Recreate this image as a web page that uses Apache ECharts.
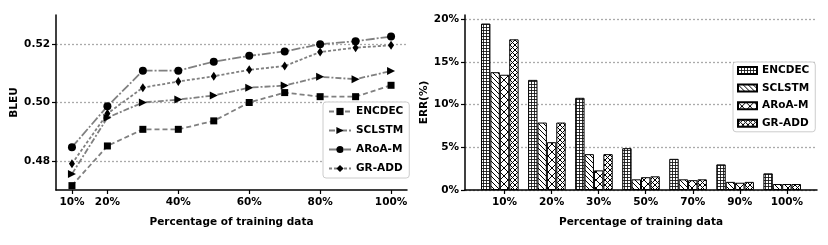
<!DOCTYPE html>
<html><head><meta charset="utf-8">
<script src="https://cdn.jsdelivr.net/npm/echarts@6/dist/echarts.min.js"></script>
<style>html,body{margin:0;padding:0;background:#fff}#c{width:828px;height:245px}</style>
</head><body><div id="c"></div>
<script>
// ---- Data (left: BLEU vs percentage of training data) ----
const trainPct = [10, 20, 30, 40, 50, 60, 70, 80, 90, 100];
const bleuTicksX = [10, 20, 40, 60, 80, 100];
const bleuTicksY = [0.48, 0.50, 0.52];
const bleuEncdec = [0.4715, 0.4851, 0.4908, 0.4908, 0.4937, 0.5000, 0.5034, 0.5020, 0.5020, 0.5059];
const bleuSclstm = [0.4755, 0.4948, 0.5000, 0.5010, 0.5024, 0.5051, 0.5058, 0.5088, 0.5080, 0.5108];
const bleuAroa   = [0.4847, 0.4987, 0.5109, 0.5109, 0.5140, 0.5160, 0.5175, 0.5200, 0.5210, 0.5226];
const bleuGradd  = [0.4790, 0.4962, 0.5051, 0.5072, 0.5090, 0.5112, 0.5125, 0.5173, 0.5188, 0.5196];

// ---- Data (right: ERR vs percentage of training data) ----
const errCats   = ['10%', '20%', '30%', '50%', '70%', '90%', '100%'];
const errTicksY = [0, 5, 10, 15, 20];
const errEncdec = [19.5, 12.9, 10.8, 4.9, 3.65, 3.0, 1.95];
const errSclstm = [13.8, 7.9, 4.2, 1.25, 1.25, 0.95, 0.7];
const errAroa   = [13.5, 5.6, 2.3, 1.5, 1.15, 0.85, 0.7];
const errGradd  = [17.65, 7.9, 4.2, 1.6, 1.25, 0.95, 0.7];

const names = ['ENCDEC', 'SCLSTM', 'ARoA-M', 'GR-ADD'];
const ERR_SUFFIX = ' (ERR)';

const FONT = 'DejaVu Sans';
const txt = { fontFamily: FONT, fontWeight: 'bold', fontSize: 10.5, color: '#000' };

function hatch(kind) {
  const s = kind === 'grid' ? 3 : kind === 'back' ? 5 : kind === 'xs' ? 8 : 5;
  const c = document.createElement('canvas');
  c.width = s; c.height = s;
  const g = c.getContext('2d');
  g.fillStyle = '#fff'; g.fillRect(0, 0, s, s);
  g.strokeStyle = '#000'; g.fillStyle = '#111';
  g.lineWidth = 1;
  if (kind === 'grid') {
    g.globalAlpha = 0.85;
    g.fillRect(0, 0, s, 1);
    g.fillRect(0, 0, 1, s);
  } else {
    g.beginPath();
    for (let k = -1; k <= 1; k++) {
      g.moveTo(k * s, 0); g.lineTo(k * s + s, s);
      if (kind !== 'back') { g.moveTo(k * s + s, 0); g.lineTo(k * s, s); }
    }
    g.stroke();
  }
  return { image: c, repeat: 'repeat' };
}
const patterns = [hatch('grid'), hatch('back'), hatch('xs'), hatch('xd')];

const lineDefs = [
  { data: bleuEncdec, symbol: 'rect', size: 7, rot: 0, dash: [5, 3] },
  { data: bleuSclstm, symbol: 'triangle', size: 8, rot: -90, dash: [6, 2, 2, 2] },
  { data: bleuAroa, symbol: 'circle', size: 8, rot: 0, dash: [9, 2, 2, 2] },
  { data: bleuGradd, symbol: 'diamond', size: [6, 9], rot: 0, dash: [3, 2] }
];
const errDefs = [errEncdec, errSclstm, errAroa, errGradd];

const series = [];
lineDefs.forEach((d, k) => {
  series.push({
    type: 'line', name: names[k], xAxisIndex: 0, yAxisIndex: 0,
    data: trainPct.map((x, i) => [x, d.data[i]]),
    symbol: d.symbol, symbolSize: d.size, symbolRotate: d.rot,
    lineStyle: { color: '#808080', width: 1.8, type: d.dash },
    itemStyle: { color: '#000' },
    z: 3
  });
});
errDefs.forEach((vals, k) => {
  series.push({
    type: 'bar', name: names[k] + ERR_SUFFIX, xAxisIndex: 1, yAxisIndex: 1,
    data: errCats.map((c, i) => [i, vals[i]]),
    barWidth: 9.4, barGap: '0%',
    itemStyle: { color: patterns[k], borderColor: '#000', borderWidth: 1 }
  });
});
// empty slot so that the category tick sits under the third bar, as in the source
series.push({
  type: 'bar', name: '_slot', xAxisIndex: 1, yAxisIndex: 1,
  data: errCats.map((c, i) => [i, '-']), barWidth: 9.4, barGap: '0%',
  itemStyle: { color: 'transparent' }, silent: true
});

const axisLine = { show: true, onZero: false, lineStyle: { color: '#000', width: 1.5 } };
const axisTick = (vals) => ({ show: true, customValues: vals, length: 4, lineStyle: { color: '#000', width: 1.2 } });
const split = { show: true, lineStyle: { color: '#aaaaaa', width: 1.3, type: [2, 2] } };

const chart = echarts.init(document.getElementById('c'), null, { renderer: 'canvas' });
chart.setOption({
  animation: false,
  backgroundColor: '#fff',
  textStyle: { fontFamily: FONT },
  grid: [
    { left: 56, top: 15, width: 351, height: 175 },
    { left: 465, top: 15, width: 352, height: 175 }
  ],
  xAxis: [
    {
      type: 'value', gridIndex: 0, min: 5.5, max: 104.5,
      axisLine, axisTick: axisTick(bleuTicksX),
      axisLabel: Object.assign({ customValues: bleuTicksX, formatter: '{value}%', margin: 7 }, txt),
      splitLine: { show: false },
      name: 'Percentage of training data', nameLocation: 'middle', nameGap: 27,
      nameTextStyle: txt
    },
    {
      type: 'value', gridIndex: 1, min: -0.84, max: 6.64,
      axisLine, axisTick: axisTick(errCats.map((c, i) => i)),
      axisLabel: Object.assign({ customValues: errCats.map((c, i) => i), formatter: (v) => errCats[v], margin: 7 }, txt),
      splitLine: { show: false },
      name: 'Percentage of training data', nameLocation: 'middle', nameGap: 27,
      nameTextStyle: txt
    }
  ],
  yAxis: [
    {
      type: 'value', gridIndex: 0, min: 0.47, max: 0.53,
      axisLine, axisTick: axisTick(bleuTicksY),
      axisLabel: Object.assign({ customValues: bleuTicksY, formatter: (v) => v.toFixed(2), margin: 6 }, txt),
      splitLine: split,
      name: 'BLEU', nameLocation: 'middle', nameGap: 36, nameRotate: 90,
      nameTextStyle: txt
    },
    {
      type: 'value', gridIndex: 1, min: 0, max: 20.5,
      axisLine, axisTick: axisTick(errTicksY),
      axisLabel: Object.assign({ customValues: errTicksY, formatter: '{value}%', margin: 6 }, txt),
      splitLine: split,
      name: 'ERR(%)', nameLocation: 'middle', nameGap: 34, nameRotate: 90,
      nameTextStyle: txt
    }
  ],
  legend: [
    {
      data: names, orient: 'vertical', left: 323, top: 102,
      padding: [4, 6, 4, 5], itemGap: 8, itemWidth: 22, itemHeight: 9,
      borderColor: '#cccccc', borderWidth: 1, borderRadius: 3, backgroundColor: '#fff',
      textStyle: txt, selectedMode: false
    },
    {
      data: names.map(n => n + ERR_SUFFIX), orient: 'vertical', left: 733, top: 62,
      padding: [3, 6, 3, 4], itemGap: 6.6, itemWidth: 19, itemHeight: 7, icon: 'rect',
      borderColor: '#cccccc', borderWidth: 1, borderRadius: 3, backgroundColor: '#fff',
      textStyle: txt, selectedMode: false,
      formatter: (n) => n.replace(ERR_SUFFIX, '')
    }
  ],
  series
});
</script>
</body></html>
